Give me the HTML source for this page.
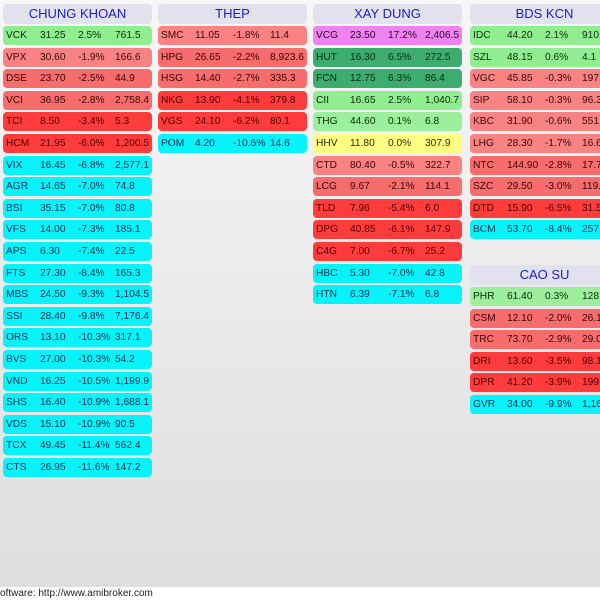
<!DOCTYPE html>
<html><head><meta charset="utf-8">
<style>
html,body{margin:0;padding:0;}
body{width:600px;height:600px;overflow:hidden;position:relative;background:#fff;font-family:"Liberation Sans",Arial,sans-serif;}
#bg{position:absolute;left:0;top:0;width:600px;height:587px;background:linear-gradient(#f7f7f7,#dedede);}
.h{position:absolute;width:149px;height:20px;line-height:20px;border-radius:4px;background:#e2e2ee;color:#1c1cc8;font-size:13px;text-align:center;}
.r{position:absolute;width:149px;height:19px;line-height:19px;border-radius:4px;font-size:10.2px;color:#1a1a1a;}
.r span{position:absolute;top:0;white-space:nowrap;}
.r span:nth-child(1){left:3px}
.r span:nth-child(2){left:37px}
.r span:nth-child(3){left:75px}
.r span:nth-child(4){left:112px}
.LG{background:#90ee90;color:#0a2a0a}
.LG2{background:#9cf09c;color:#0a2a0a}
.DG{background:#3cad6e;color:#062a14}
.V{background:#ee82ee;color:#2a062a}
.Y{background:#ffff84;color:#2a2a00}
.R1{background:#f98282;color:#3a0808}
.R2{background:#f76c6c;color:#3a0404}
.R3{background:#ff3c3c;color:#4a0000}
.C{background:#08f2fa;color:#063050}
#ft{position:absolute;left:0;top:587px;font-size:10px;line-height:13px;color:#222;white-space:nowrap;}
</style></head><body>
<div id="bg"></div>

<!-- Column 1 -->
<div class="h" style="left:3px;top:4px">CHUNG KHOAN</div>
<div class="r LG" style="left:3px;top:26px"><span>VCK</span><span>31.25</span><span>2.5%</span><span>761.5</span></div>
<div class="r R1" style="left:3px;top:47.6px"><span>VPX</span><span>30.60</span><span>-1.9%</span><span>166.6</span></div>
<div class="r R2" style="left:3px;top:69.2px"><span>DSE</span><span>23.70</span><span>-2.5%</span><span>44.9</span></div>
<div class="r R2" style="left:3px;top:90.8px"><span>VCI</span><span>36.95</span><span>-2.8%</span><span>2,758.4</span></div>
<div class="r R3" style="left:3px;top:112.4px"><span>TCI</span><span>8.50</span><span>-3.4%</span><span>5.3</span></div>
<div class="r R3" style="left:3px;top:134px"><span>HCM</span><span>21.95</span><span>-6.0%</span><span>1,200.5</span></div>
<div class="r C" style="left:3px;top:155.6px"><span>VIX</span><span>16.45</span><span>-6.8%</span><span>2,577.1</span></div>
<div class="r C" style="left:3px;top:177.2px"><span>AGR</span><span>14.65</span><span>-7.0%</span><span>74.8</span></div>
<div class="r C" style="left:3px;top:198.8px"><span>BSI</span><span>35.15</span><span>-7.0%</span><span>80.8</span></div>
<div class="r C" style="left:3px;top:220.4px"><span>VFS</span><span>14.00</span><span>-7.3%</span><span>185.1</span></div>
<div class="r C" style="left:3px;top:242px"><span>APS</span><span>6.30</span><span>-7.4%</span><span>22.5</span></div>
<div class="r C" style="left:3px;top:263.6px"><span>FTS</span><span>27.30</span><span>-8.4%</span><span>165.3</span></div>
<div class="r C" style="left:3px;top:285.2px"><span>MBS</span><span>24.50</span><span>-9.3%</span><span>1,104.5</span></div>
<div class="r C" style="left:3px;top:306.8px"><span>SSI</span><span>28.40</span><span>-9.8%</span><span>7,176.4</span></div>
<div class="r C" style="left:3px;top:328.4px"><span>ORS</span><span>13.10</span><span>-10.3%</span><span>317.1</span></div>
<div class="r C" style="left:3px;top:350px"><span>BVS</span><span>27.00</span><span>-10.3%</span><span>54.2</span></div>
<div class="r C" style="left:3px;top:371.6px"><span>VND</span><span>16.25</span><span>-10.5%</span><span>1,199.9</span></div>
<div class="r C" style="left:3px;top:393.2px"><span>SHS</span><span>16.40</span><span>-10.9%</span><span>1,688.1</span></div>
<div class="r C" style="left:3px;top:414.8px"><span>VDS</span><span>15.10</span><span>-10.9%</span><span>90.5</span></div>
<div class="r C" style="left:3px;top:436.4px"><span>TCX</span><span>49.45</span><span>-11.4%</span><span>562.4</span></div>
<div class="r C" style="left:3px;top:458px"><span>CTS</span><span>26.95</span><span>-11.6%</span><span>147.2</span></div>

<!-- Column 2 -->
<div class="h" style="left:158px;top:4px">THEP</div>
<div class="r R1" style="left:158px;top:26px"><span>SMC</span><span>11.05</span><span>-1.8%</span><span>11.4</span></div>
<div class="r R2" style="left:158px;top:47.6px"><span>HPG</span><span>26.65</span><span>-2.2%</span><span>8,923.6</span></div>
<div class="r R2" style="left:158px;top:69.2px"><span>HSG</span><span>14.40</span><span>-2.7%</span><span>335.3</span></div>
<div class="r R3" style="left:158px;top:90.8px"><span>NKG</span><span>13.90</span><span>-4.1%</span><span>379.8</span></div>
<div class="r R3" style="left:158px;top:112.4px"><span>VGS</span><span>24.10</span><span>-6.2%</span><span>80.1</span></div>
<div class="r C" style="left:158px;top:134px"><span>POM</span><span>4.20</span><span>-10.6%</span><span>14.6</span></div>

<!-- Column 3 -->
<div class="h" style="left:313px;top:4px">XAY DUNG</div>
<div class="r V" style="left:313px;top:26px"><span>VCG</span><span>23.50</span><span>17.2%</span><span>2,406.5</span></div>
<div class="r DG" style="left:313px;top:47.6px"><span>HUT</span><span>16.30</span><span>6.5%</span><span>272.5</span></div>
<div class="r DG" style="left:313px;top:69.2px"><span>FCN</span><span>12.75</span><span>6.3%</span><span>86.4</span></div>
<div class="r LG" style="left:313px;top:90.8px"><span>CII</span><span>16.65</span><span>2.5%</span><span>1,040.7</span></div>
<div class="r LG2" style="left:313px;top:112.4px"><span>THG</span><span>44.60</span><span>0.1%</span><span>6.8</span></div>
<div class="r Y" style="left:313px;top:134px"><span>HHV</span><span>11.80</span><span>0.0%</span><span>307.9</span></div>
<div class="r R1" style="left:313px;top:155.6px"><span>CTD</span><span>80.40</span><span>-0.5%</span><span>322.7</span></div>
<div class="r R2" style="left:313px;top:177.2px"><span>LCG</span><span>9.67</span><span>-2.1%</span><span>114.1</span></div>
<div class="r R3" style="left:313px;top:198.8px"><span>TLD</span><span>7.96</span><span>-5.4%</span><span>6.0</span></div>
<div class="r R3" style="left:313px;top:220.4px"><span>DPG</span><span>40.85</span><span>-6.1%</span><span>147.9</span></div>
<div class="r R3" style="left:313px;top:242px"><span>C4G</span><span>7.00</span><span>-6.7%</span><span>25.2</span></div>
<div class="r C" style="left:313px;top:263.6px"><span>HBC</span><span>5.30</span><span>-7.0%</span><span>42.8</span></div>
<div class="r C" style="left:313px;top:285.2px"><span>HTN</span><span>6.39</span><span>-7.1%</span><span>6.8</span></div>

<!-- Column 4 -->
<div class="h" style="left:470px;top:4px">BDS KCN</div>
<div class="r LG" style="left:470px;top:26px"><span>IDC</span><span>44.20</span><span>2.1%</span><span>910.3</span></div>
<div class="r LG" style="left:470px;top:47.6px"><span>SZL</span><span>48.15</span><span>0.6%</span><span>4.1</span></div>
<div class="r R1" style="left:470px;top:69.2px"><span>VGC</span><span>45.85</span><span>-0.3%</span><span>197.4</span></div>
<div class="r R1" style="left:470px;top:90.8px"><span>SIP</span><span>58.10</span><span>-0.3%</span><span>96.3</span></div>
<div class="r R1" style="left:470px;top:112.4px"><span>KBC</span><span>31.90</span><span>-0.6%</span><span>551.2</span></div>
<div class="r R1" style="left:470px;top:134px"><span>LHG</span><span>28.30</span><span>-1.7%</span><span>16.6</span></div>
<div class="r R2" style="left:470px;top:155.6px"><span>NTC</span><span>144.90</span><span>-2.8%</span><span>17.7</span></div>
<div class="r R2" style="left:470px;top:177.2px"><span>SZC</span><span>29.50</span><span>-3.0%</span><span>119.2</span></div>
<div class="r R3" style="left:470px;top:198.8px"><span>DTD</span><span>15.90</span><span>-6.5%</span><span>31.5</span></div>
<div class="r C" style="left:470px;top:220.4px"><span>BCM</span><span>53.70</span><span>-8.4%</span><span>257.1</span></div>

<div class="h" style="left:470px;top:265px">CAO SU</div>
<div class="r LG2" style="left:470px;top:287px"><span>PHR</span><span>61.40</span><span>0.3%</span><span>128.4</span></div>
<div class="r R2" style="left:470px;top:308.6px"><span>CSM</span><span>12.10</span><span>-2.0%</span><span>26.1</span></div>
<div class="r R2" style="left:470px;top:330.2px"><span>TRC</span><span>73.70</span><span>-2.9%</span><span>29.0</span></div>
<div class="r R3" style="left:470px;top:351.8px"><span>DRI</span><span>13.60</span><span>-3.5%</span><span>98.1</span></div>
<div class="r R3" style="left:470px;top:373.4px"><span>DPR</span><span>41.20</span><span>-3.9%</span><span>199.5</span></div>
<div class="r C" style="left:470px;top:395px"><span>GVR</span><span>34.00</span><span>-9.9%</span><span>1,169.2</span></div>

<div id="ft">oftware: http://www.amibroker.com</div>
</body></html>
